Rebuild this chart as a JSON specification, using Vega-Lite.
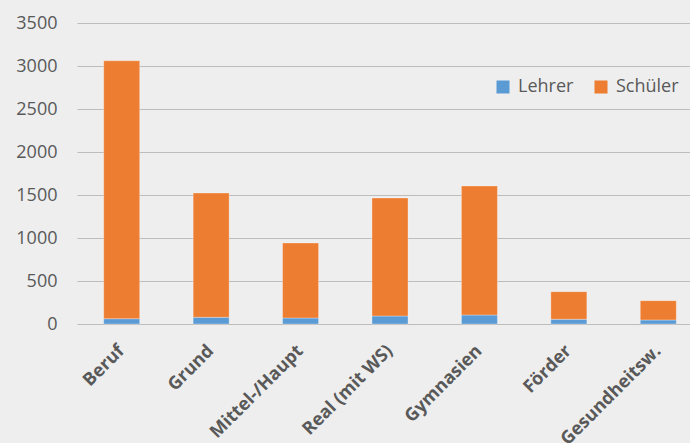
{
  "$schema": "https://vega.github.io/schema/vega-lite/v6.json",
  "autosize": {"type": "none"},
  "width": 613,
  "height": 301,
  "padding": {"left": 77, "top": 23, "right": 0, "bottom": 119},
  "background": "#eeeeee",
  "config": {
    "view": {"stroke": null},
    "font": "Open Sans"
  },
  "data": {
    "values": [
      {"Schulart": "Beruf", "Gruppe": "Lehrer", "Anzahl": 62},
      {"Schulart": "Beruf", "Gruppe": "Schüler", "Anzahl": 2998},
      {"Schulart": "Grund", "Gruppe": "Lehrer", "Anzahl": 78},
      {"Schulart": "Grund", "Gruppe": "Schüler", "Anzahl": 1445},
      {"Schulart": "Mittel-/Haupt", "Gruppe": "Lehrer", "Anzahl": 70},
      {"Schulart": "Mittel-/Haupt", "Gruppe": "Schüler", "Anzahl": 872},
      {"Schulart": "Real (mit WS)", "Gruppe": "Lehrer", "Anzahl": 93},
      {"Schulart": "Real (mit WS)", "Gruppe": "Schüler", "Anzahl": 1372},
      {"Schulart": "Gymnasien", "Gruppe": "Lehrer", "Anzahl": 105},
      {"Schulart": "Gymnasien", "Gruppe": "Schüler", "Anzahl": 1500},
      {"Schulart": "Förder", "Gruppe": "Lehrer", "Anzahl": 55},
      {"Schulart": "Förder", "Gruppe": "Schüler", "Anzahl": 321},
      {"Schulart": "Gesundheitsw.", "Gruppe": "Lehrer", "Anzahl": 47},
      {"Schulart": "Gesundheitsw.", "Gruppe": "Schüler", "Anzahl": 224}
    ]
  },
  "mark": {"type": "bar", "size": 36, "stroke": "#ffffff", "strokeOpacity": 0.3, "strokeWidth": 1},
  "encoding": {
    "x": {
      "field": "Schulart",
      "type": "nominal",
      "sort": null,
      "scale": {"range": [0, 626], "paddingInner": 0, "paddingOuter": 0},
      "axis": {
        "title": null,
        "domain": false,
        "ticks": false,
        "labelAngle": -45,
        "labelAlign": "right",
        "labelBaseline": "middle",
        "labelPadding": 24,
        "labelFontSize": 18,
        "labelFontWeight": "bold",
        "labelColor": "#595959",
        "labelFont": "Open Sans"
      }
    },
    "y": {
      "field": "Anzahl",
      "type": "quantitative",
      "stack": "zero",
      "scale": {"domain": [0, 3500], "nice": false},
      "axis": {
        "title": null,
        "values": [0, 500, 1000, 1500, 2000, 2500, 3000, 3500],
        "format": "d",
        "domain": false,
        "ticks": false,
        "labelPadding": 20,
        "labelFontSize": 18,
        "labelColor": "#595959",
        "labelFont": "Open Sans",
        "gridColor": "#bdbdbd",
        "gridWidth": 1
      }
    },
    "color": {
      "field": "Gruppe",
      "type": "nominal",
      "scale": {"domain": ["Lehrer", "Schüler"], "range": ["#5b9bd5", "#ed7d31"]},
      "legend": {
        "title": null,
        "orient": "none",
        "legendX": 417,
        "legendY": 55,
        "direction": "horizontal",
        "symbolType": "square",
        "symbolSize": 169,
        "symbolStrokeWidth": 0,
        "labelFontSize": 18,
        "labelColor": "#595959",
        "labelFont": "Open Sans",
        "columnPadding": 18,
        "labelOffset": 6
      }
    },
    "order": {"field": "Gruppe", "sort": "ascending"}
  }
}
